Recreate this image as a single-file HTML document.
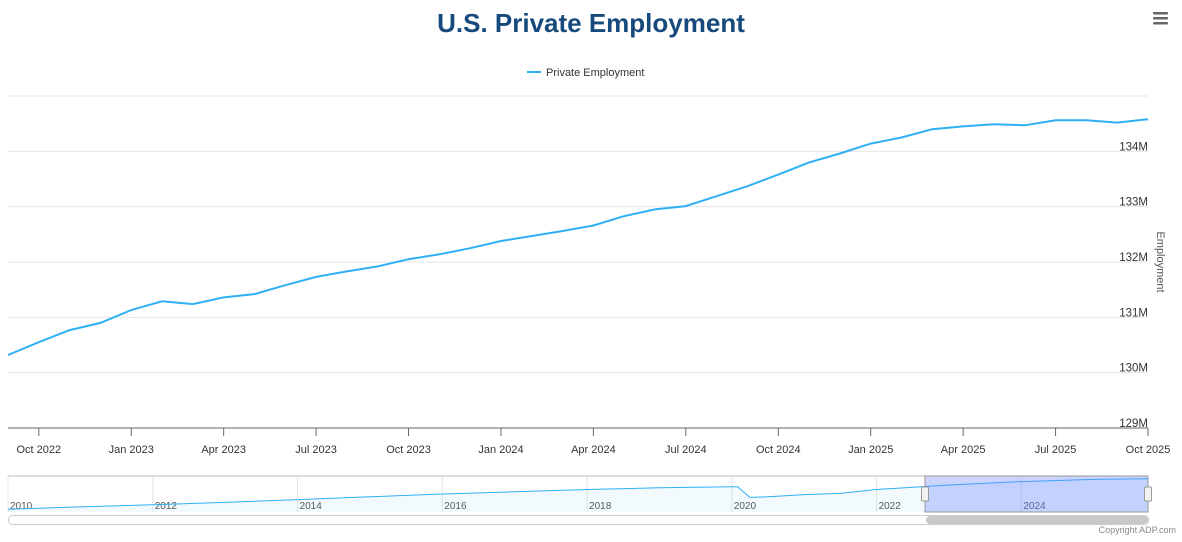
<!DOCTYPE html>
<html><head><meta charset="utf-8">
<style>
body{margin:0;background:#fff;font-family:"Liberation Sans",sans-serif;}
svg text{font-family:"Liberation Sans",sans-serif;}
</style></head>
<body>
<svg id="chart" width="1182" height="537" xmlns="http://www.w3.org/2000/svg">
<text x="591" y="32" text-anchor="middle" font-size="26" font-weight="bold" fill="#174a7c">U.S. Private Employment</text>
<g fill="#666">
<rect x="1153" y="12" width="15" height="2.5" rx="1"/><rect x="1153" y="17" width="15" height="2.5" rx="1"/><rect x="1153" y="22" width="15" height="2.5" rx="1"/>
</g>
<g>
<line x1="527" y1="72" x2="541" y2="72" stroke="#2fb0f5" stroke-width="2"/>
<text x="546" y="76" font-size="11" fill="#333">Private Employment</text>
</g>
<g id="grid"></g>
<g id="xaxis"></g>
<path id="line" fill="none" stroke="#2fb0f5" stroke-width="2"/>
<text transform="translate(1157,262) rotate(90)" text-anchor="middle" font-size="11" fill="#555">Employment</text>
<g id="nav"></g>
<text x="1176" y="533" text-anchor="end" font-size="9" fill="#888">Copyright ADP.com</text>
</svg>
<script>
const months = ["Sep 2022","Oct 2022","Nov 2022","Dec 2022","Jan 2023","Feb 2023","Mar 2023","Apr 2023","May 2023","Jun 2023","Jul 2023","Aug 2023","Sep 2023","Oct 2023","Nov 2023","Dec 2023","Jan 2024","Feb 2024","Mar 2024","Apr 2024","May 2024","Jun 2024","Jul 2024","Aug 2024","Sep 2024","Oct 2024","Nov 2024","Dec 2024","Jan 2025","Feb 2025","Mar 2025","Apr 2025","May 2025","Jun 2025","Jul 2025","Aug 2025","Sep 2025","Oct 2025"];
const employment = [130.32,130.55,130.77,130.90,131.13,131.29,131.24,131.36,131.42,131.58,131.73,131.83,131.92,132.05,132.14,132.25,132.38,132.47,132.56,132.66,132.83,132.95,133.01,133.19,133.37,133.58,133.80,133.96,134.14,134.25,134.40,134.45,134.49,134.47,134.56,134.56,134.52,134.58];
const yTicks = [129,130,131,132,133,134,135];
const xTickLabels = ["Oct 2022","Jan 2023","Apr 2023","Jul 2023","Oct 2023","Jan 2024","Apr 2024","Jul 2024","Oct 2024","Jan 2025","Apr 2025","Jul 2025","Oct 2025"];
const navYears = [2010,2011,2012,2013,2014,2015,2016,2017,2018,2019,2020,2020.08,2020.25,2020.5,2021,2021.5,2022,2022.5,2023,2024,2025,2025.75];
const navValues = [107.5,109.5,111.5,113.5,116,118.5,121,123,125,126.5,127.5,127.5,118,118.5,120.5,121.5,125,127,129,132,134,134.6];
const navLabels = [2010,2012,2014,2016,2018,2020,2022,2024];

const NS="http://www.w3.org/2000/svg";
const svg=document.getElementById('chart');
const L=8,R=1148,T=96,B=428;
const x=i=>L+(R-L)*i/(months.length-1);
const y=v=>B-(v-129)/(135-129)*(B-T);
function mk(tag,attrs,parent){const e=document.createElementNS(NS,tag);for(const k in attrs)e.setAttribute(k,attrs[k]);(parent||svg).appendChild(e);return e;}
const grid=document.getElementById('grid');
yTicks.forEach(t=>{
  const g=mk('line',{x1:L,x2:R,y1:y(t),y2:y(t),stroke:'#e6e6e6'},grid);
  
  
  if(t<135){const tx=mk('text',{x:R,y:y(t)-1,'text-anchor':'end','font-size':11.5,fill:'#333'},grid);tx.textContent=t+'M';
  
  }
});
const xa=document.getElementById('xaxis');
const ax=mk('line',{x1:L,x2:R,y1:B,y2:B,stroke:'#666'},xa);


xTickLabels.forEach(lbl=>{
  const i=months.indexOf(lbl);const px=x(i);
  mk('line',{x1:px,x2:px,y1:B,y2:B+8,stroke:'#666'},xa);
  const t=mk('text',{x:px,y:453,'text-anchor':'middle','font-size':11,fill:'#333'},xa);t.textContent=lbl;
  
  
});
document.getElementById('line').setAttribute('d',employment.map((v,i)=>(i?'L':'M')+x(i).toFixed(1)+','+y(v).toFixed(1)).join(''));
const nav=document.getElementById('nav');
const NT=476,NB=512;
const nx=yr=>L+(yr-2010)*(R-L)/(2025.75-2010);
const ny=v=>NB-(v-105)/(137-105)*(NB-NT);
mk('rect',{x:L,y:NT,width:R-L,height:NB-NT,fill:'#fff'},nav);
navLabels.forEach(yr=>{
  mk('line',{x1:nx(yr),x2:nx(yr),y1:NT,y2:NB,stroke:'#e6e6e6'},nav);
  const t=mk('text',{x:nx(yr)+2,y:509,'font-size':10,fill:'#555'},nav);t.textContent=yr;
  
  
});
const nd=navValues.map((v,i)=>(i?'L':'M')+nx(navYears[i]).toFixed(1)+','+ny(v).toFixed(1)).join('');
mk('path',{d:nd+'L'+R+','+NB+'L'+L+','+NB+'Z',fill:'rgba(47,176,245,0.06)'},nav);
mk('path',{d:nd,fill:'none',stroke:'#2fb0f5','stroke-width':1},nav);
mk('line',{x1:L,x2:R,y1:NT,y2:NT,stroke:'#bbb'},nav);
const sel=mk('rect',{x:925,y:NT,width:R-925,height:NB-NT,fill:'rgba(102,133,255,0.35)',stroke:'#999'},nav);


[925,1148].forEach(hx=>{const h=mk('rect',{x:hx-3.5,y:487,width:7,height:14,rx:1,fill:'#f2f2f2',stroke:'#999'},nav);

});
const sb=mk('rect',{x:L+0.5,y:515.5,width:R-L,height:9,rx:4,fill:'#fff',stroke:'#ccc'},nav);


const th=mk('rect',{x:926,y:516,width:222,height:8,rx:4,fill:'#c8c8c8'},nav);


</script>
</body></html>
